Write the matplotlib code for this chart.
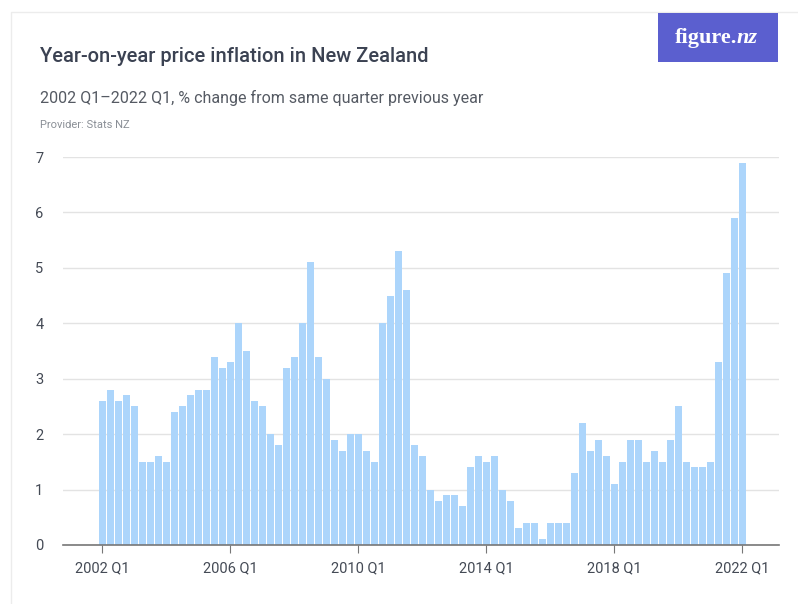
import matplotlib
matplotlib.use("Agg")
import matplotlib.pyplot as plt
from matplotlib.patches import Rectangle

# annual % change, 2002 Q1 .. 2022 Q1
years = list(range(2002, 2023))
quarters = ["Q1", "Q2", "Q3", "Q4"]
values = [
    2.6, 2.8, 2.6, 2.7,
    2.5, 1.5, 1.5, 1.6,
    1.5, 2.4, 2.5, 2.7,
    2.8, 2.8, 3.4, 3.2,
    3.3, 4.0, 3.5, 2.6,
    2.5, 2.0, 1.8, 3.2,
    3.4, 4.0, 5.1, 3.4,
    3.0, 1.9, 1.7, 2.0,
    2.0, 1.7, 1.5, 4.0,
    4.5, 5.3, 4.6, 1.8,
    1.6, 1.0, 0.8, 0.9,
    0.9, 0.7, 1.4, 1.6,
    1.5, 1.6, 1.0, 0.8,
    0.3, 0.4, 0.4, 0.1,
    0.4, 0.4, 0.4, 1.3,
    2.2, 1.7, 1.9, 1.6,
    1.1, 1.5, 1.9, 1.9,
    1.5, 1.7, 1.5, 1.9,
    2.5, 1.5, 1.4, 1.4,
    1.5, 3.3, 4.9, 5.9,
    6.9,
]
labels = [f"{y} {q}" for y in years for q in quarters][:len(values)]
tick_every = 16
y_ticks = [0, 1, 2, 3, 4, 5, 6, 7]

title = "Year-on-year price inflation in New Zealand"
subtitle = "2002 Q1\u20132022 Q1, % change from same quarter previous year"
provider = "Provider: Stats NZ"

plt.rcParams['font.family'] = ['Roboto', 'DejaVu Sans']

W, H = 798, 604
fig = plt.figure(figsize=(W / 100, H / 100), dpi=100)
fig.patch.set_facecolor("white")

# card border
fig.add_artist(Rectangle((11 / W, -0.1), (W - 11) / W + 0.1, (H - 12) / H + 0.1,
                         transform=fig.transFigure, fill=False,
                         edgecolor="#ececec", linewidth=1))

# logo
fig.add_artist(Rectangle((658 / W, 1 - 62 / H), 120 / W, 49 / H,
                         transform=fig.transFigure, facecolor="#5b5fcf",
                         edgecolor="none"))
fig.text(737 / W, 1 - 38 / H, "figure.", color="white", fontsize=16,
         fontweight="bold", family="Liberation Serif", ha="right", va="center")
fig.text(737 / W, 1 - 38 / H, "nz", color="white", fontsize=16,
         fontweight="bold", fontstyle="italic", family="Liberation Serif",
         ha="left", va="center")

fig.text(40 / W, 1 - 56 / H, title, fontsize=14.5, color="#3b4252",
         ha="left", va="center", fontweight="medium")
fig.text(40 / W, 1 - 98 / H, subtitle, fontsize=11.5, color="#555a63",
         ha="left", va="center")
fig.text(40 / W, 1 - 125 / H, provider, fontsize=8, color="#8a8f96",
         ha="left", va="center")

ax = fig.add_axes([63 / W, 1 - 545 / H, (779 - 63) / W, (545 - 157) / H])
x = list(range(len(values)))
ax.bar(x, values, width=0.86, color="#acd5fb", zorder=2)
ax.set_ylim(0, 7)
ax.set_xlim(-4.9, 84.6)
ax.set_yticks(y_ticks)
ax.set_yticklabels([str(v) for v in y_ticks])
ax.set_xticks(x[::tick_every])
ax.set_xticklabels(labels[::tick_every])
ax.grid(axis="y", color="#e3e3e3", linewidth=1, zorder=0)
for s in ["top", "right", "left"]:
    ax.spines[s].set_visible(False)
ax.spines["bottom"].set_color("#777777")
ax.spines["bottom"].set_linewidth(1.2)
ax.spines["bottom"].set_zorder(3)
ax.tick_params(axis="y", length=0, pad=14, labelsize=10.5, labelcolor="#444a55")
ax.tick_params(axis="x", length=6, color="#777777", pad=6, labelsize=10.5,
               labelcolor="#444a55")

fig.savefig("out.png", dpi=100, facecolor="white")
